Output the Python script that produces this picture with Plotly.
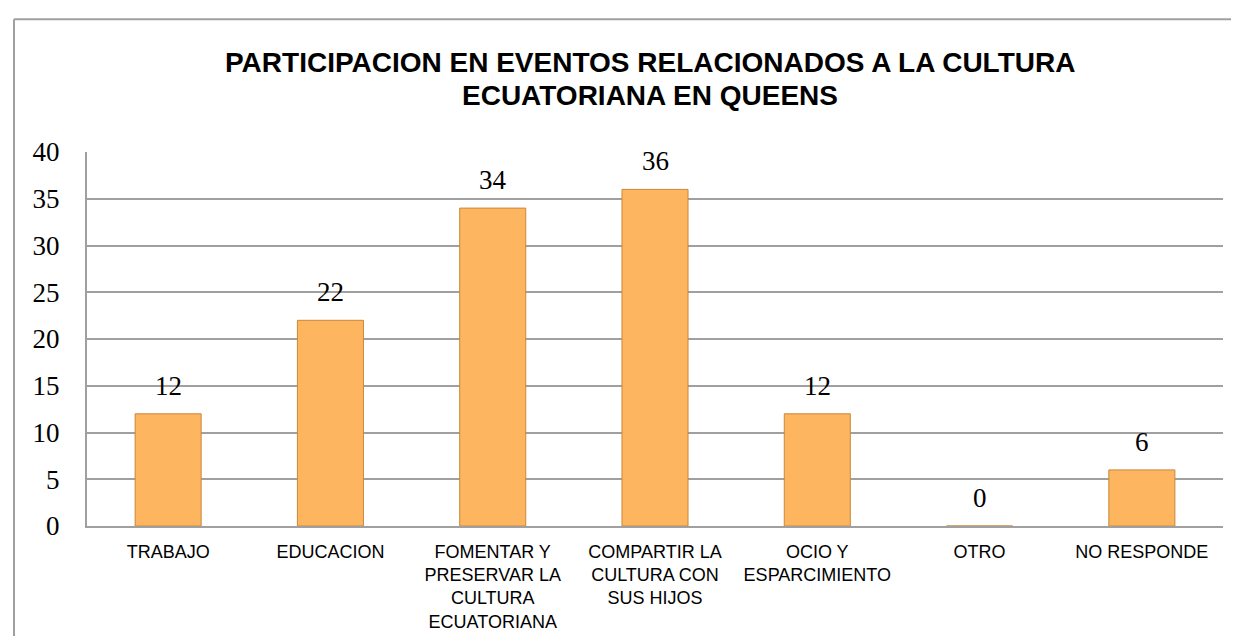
import plotly.graph_objects as go

categories = ["TRABAJO", "EDUCACION", "FOMENTAR Y<br>PRESERVAR LA<br>CULTURA<br>ECUATORIANA",
              "COMPARTIR LA<br>CULTURA CON<br>SUS HIJOS", "OCIO Y<br>ESPARCIMIENTO", "OTRO", "NO RESPONDE"]
values = [12, 22, 34, 36, 12, 0, 6]
y_ticks = [0, 5, 10, 15, 20, 25, 30, 35, 40]
title_lines = ["PARTICIPACION EN EVENTOS RELACIONADOS A LA CULTURA", "ECUATORIANA EN QUEENS"]

W, H = 1239, 636
L, R, T, B = 79, 24, 144, 112
PH = H - T - B
PW = W - L - R

fig = go.Figure()
fig.add_trace(go.Bar(
    x=categories, y=values,
    marker=dict(color="#FDB55F", line=dict(color="#C8883A", width=1)),
    showlegend=False, hoverinfo="x+y",
))

for c, v in zip(categories, values):
    fig.add_annotation(x=c, y=v, text=str(v), showarrow=False, yanchor="middle",
                       yshift=28, font=dict(family="Liberation Serif", size=27, color="black"))

# title (two lines)
for i, line in enumerate(title_lines):
    py = 53 + 34 * i
    fig.add_annotation(xref="paper", yref="paper", x=(642 - L) / PW, y=(H - B - py) / PH,
                       text="<b>" + line + "</b>", showarrow=False, xanchor="center", yanchor="middle",
                       font=dict(family="Liberation Sans", size=28, color="black"))

# outer frame (left and top edges visible)
px0 = (6 - L) / PW
py_top = (H - B - 9) / PH
py_bot = (H - B - H - 5) / PH
fig.add_shape(type="line", xref="paper", yref="paper", x0=px0, x1=px0, y0=py_bot, y1=py_top,
              line=dict(color="#A0A0A0", width=2))
fig.add_shape(type="line", xref="paper", yref="paper", x0=px0, x1=1.1, y0=py_top, y1=py_top,
              line=dict(color="#A0A0A0", width=2))

fig.update_layout(
    width=W, height=H,
    margin=dict(l=L, r=R, t=T, b=B),
    paper_bgcolor="white", plot_bgcolor="white",
    bargap=0.593,
    xaxis=dict(showline=True, linecolor="#A0A0A0", linewidth=2, ticks="", ticklabelstandoff=8,
               tickfont=dict(family="Liberation Sans", size=18, color="black"),
               showgrid=False),
    yaxis=dict(range=[0, 40], tickvals=y_ticks, showline=True, linecolor="#A0A0A0", linewidth=2,
               gridcolor="#A0A0A0", gridwidth=2, ticks="", ticklabelstandoff=20,
               tickfont=dict(family="Liberation Serif", size=27, color="black"),
               zeroline=False),
)

fig.write_html("out.html")
